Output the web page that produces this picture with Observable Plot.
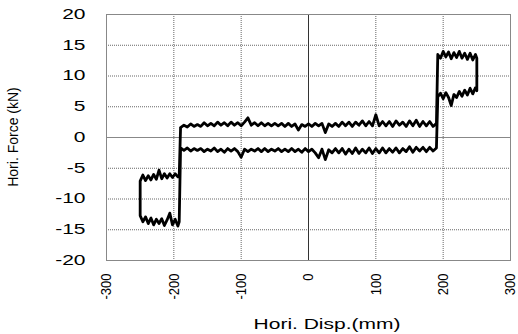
<!DOCTYPE html>
<html>
<head>
<meta charset="utf-8">
<script src="https://cdn.jsdelivr.net/npm/d3@7"></script>
<script src="https://cdn.jsdelivr.net/npm/@observablehq/plot@0.6"></script>
<style>
  html, body { margin: 0; padding: 0; background: #fff; }
  #chart svg { display: block; }
</style>
</head>
<body>
<div id="chart"></div>
<script>
// ---- data (displacement mm, force kN) ----
const xTicks = [-300, -200, -100, 0, 100, 200, 300];
const yTicks = [-20, -15, -10, -5, 0, 5, 10, 15, 20];
const xLabel = "Hori. Disp.(mm)";
const yLabel = "Hori. Force (kN)";

// upper friction branch (moving right, ~ +2 kN)
const upperBranch = [
  [-190,1.6],[-185,2.0],[-180,1.7],[-175,2.2],[-170,1.8],[-165,2.1],[-160,1.8],[-155,2.4],
  [-150,1.9],[-145,2.3],[-140,1.9],[-135,2.5],[-130,2.0],[-125,2.4],[-120,1.9],[-115,2.5],
  [-110,2.0],[-105,2.4],[-100,1.9],[-95,2.5],[-90,3.2],[-85,2.0],[-80,2.4],[-75,1.9],
  [-70,2.4],[-65,1.9],[-60,2.3],[-55,1.9],[-50,2.3],[-45,1.9],[-40,2.3],[-35,1.8],
  [-30,2.3],[-25,1.8],[-20,2.2],[-15,1.2],[-10,2.1],[-5,1.8],[0,2.2],[5,1.8],
  [10,2.3],[15,1.9],[20,2.3],[25,0.8],[30,2.2],[35,1.8],[40,2.3],[45,1.8],
  [50,2.5],[55,1.9],[60,2.5],[65,1.8],[70,2.5],[75,2.0],[80,2.7],[85,1.9],
  [90,2.6],[95,1.9],[100,3.7],[105,1.9],[110,2.6],[115,1.9],[120,2.6],[125,1.8],
  [130,2.7],[135,2.0],[140,2.5],[145,1.8],[150,2.7],[155,1.9],[160,2.8],[165,1.8],
  [170,2.6],[175,1.9],[180,2.6],[185,1.8],[190,2.3]
];
// lower friction branch (moving left, ~ -2 kN)
const lowerBranch = [
  [-190,-1.7],[-185,-2.1],[-180,-1.7],[-175,-2.2],[-170,-1.8],[-165,-2.1],[-160,-1.8],[-155,-2.3],
  [-150,-1.9],[-145,-2.2],[-140,-1.7],[-135,-2.3],[-130,-1.9],[-125,-2.4],[-120,-1.8],[-115,-2.2],
  [-110,-1.8],[-105,-2.3],[-100,-3.2],[-95,-1.9],[-90,-2.3],[-85,-1.9],[-80,-2.2],[-75,-1.8],
  [-70,-2.3],[-65,-1.8],[-60,-2.3],[-55,-1.9],[-50,-2.2],[-45,-1.8],[-40,-2.3],[-35,-1.9],
  [-30,-2.3],[-25,-1.8],[-20,-2.3],[-15,-1.9],[-10,-2.4],[-5,-1.8],[0,-2.3],[5,-1.9],
  [10,-2.5],[15,-3.3],[20,-1.9],[25,-3.6],[30,-2.0],[35,-2.5],[40,-1.8],[45,-2.5],
  [50,-1.8],[55,-2.7],[60,-1.9],[65,-2.6],[70,-1.7],[75,-2.6],[80,-1.9],[85,-2.5],
  [90,-1.7],[95,-2.6],[100,-1.8],[105,-2.5],[110,-1.7],[115,-2.5],[120,-1.8],[125,-2.4],
  [130,-1.7],[135,-2.5],[140,-1.8],[145,-2.3],[150,-1.5],[155,-2.4],[160,-1.6],[165,-2.2],
  [170,-1.6],[175,-2.3],[180,-1.6],[185,-2.2],[190,-1.7]
];
// right stopper loop
const rightTop = [
  [192,13.5],[196,12.9],[200,14.0],[204,13.1],[208,13.9],[212,12.8],[216,13.8],[220,13.0],
  [224,14.0],[228,12.9],[232,13.7],[236,12.7],[240,13.7],[244,12.6],[248,13.5],[250,12.9]
];
const rightBottom = [
  [192,6.6],[196,7.2],[200,6.3],[204,7.3],[208,6.5],[212,5.2],[216,7.0],[220,6.5],
  [224,7.5],[228,6.7],[232,7.7],[236,6.9],[240,8.0],[244,7.1],[248,8.1],[250,7.6]
];
// left stopper loop
const leftBottom = [
  [-250,-12.7],[-246,-13.7],[-242,-12.9],[-238,-14.0],[-234,-13.1],[-230,-14.2],[-226,-13.3],[-222,-14.0],
  [-218,-13.2],[-214,-14.3],[-210,-13.4],[-206,-12.3],[-202,-14.2],[-198,-13.3],[-194,-14.4],[-192,-13.7]
];
const leftTop = [
  [-250,-7.1],[-246,-6.1],[-242,-7.0],[-238,-6.2],[-234,-6.9],[-230,-6.0],[-226,-6.8],[-222,-5.3],
  [-218,-6.7],[-214,-5.9],[-210,-6.6],[-206,-5.9],[-202,-6.5],[-198,-5.9],[-194,-6.4],[-192,-6.1]
];

// assemble the closed hysteresis path in drawing order
const loop = [
  ...upperBranch,
  ...rightTop,
  ...rightBottom.slice().reverse(),
  ...lowerBranch.slice().reverse(),
  ...leftBottom.slice().reverse(),
  ...leftTop,
  upperBranch[0]
].map(([d, f]) => ({d, f}));

const innerX = xTicks.filter(v => v !== 0 && Math.abs(v) !== 300);
const innerY = yTicks.filter(v => v !== 0 && Math.abs(v) !== 20);

const plot = Plot.plot({
  width: 518,
  height: 334,
  marginLeft: 106,
  marginRight: 8,
  marginTop: 14,
  marginBottom: 74,
  style: {fontFamily: "'Liberation Sans', Arial, sans-serif", background: "#fff", color: "#000"},
  x: {domain: [-300, 300]},
  y: {domain: [-20, 20]},
  marks: [
    Plot.gridX(innerX, {stroke: "#666", strokeOpacity: 1, strokeWidth: 1, strokeDasharray: "1,1"}),
    Plot.gridY(innerY, {stroke: "#666", strokeOpacity: 1, strokeWidth: 1, strokeDasharray: "1,1"}),
    Plot.ruleY([0], {stroke: "#888", strokeWidth: 1}),
    Plot.ruleX([0], {stroke: "#333", strokeWidth: 1}),
    Plot.frame({stroke: "#888", strokeWidth: 1}),
    Plot.line(loop, {x: "d", y: "f", stroke: "#000", strokeWidth: 2.8, strokeLinejoin: "round", curve: "linear"}),
    Plot.axisY(yTicks, {tickSize: 0, tickPadding: 21, fontSize: 14, label: null, tickFormat: d => d}),
    Plot.axisX(xTicks, {tickSize: 0, tickPadding: 13, tickRotate: -90, fontSize: 13, label: null, tickFormat: d => d})
  ]
});

document.getElementById("chart").appendChild(plot);

const svg = d3.select(plot);
function stretch(selector, sx, sy) {
  svg.selectAll(selector).each(function() {
    const t = d3.select(this);
    let tr = t.attr("transform");
    if (!tr) {
      const x = +t.attr("x") || 0, y = +t.attr("y") || 0;
      t.attr("x", null).attr("y", null);
      tr = `translate(${x},${y})`;
    }
    t.attr("transform", tr + ` scale(${sx},${sy})`);
  });
}
// the reference text is horizontally stretched
stretch('g[aria-label="y-axis tick label"] text', 1.5, 1);
stretch('g[aria-label="x-axis tick label"] text', 1, 1.15);

// axis titles
svg.append("text")
  .attr("transform", "translate(327,329) scale(1.5,1)")
  .attr("text-anchor", "middle")
  .attr("font-size", 14)
  .attr("fill", "#000")
  .text(xLabel);
svg.append("text")
  .attr("transform", "translate(18,137) rotate(-90)")
  .attr("text-anchor", "middle")
  .attr("font-size", 14)
  .attr("fill", "#000")
  .text(yLabel);
</script>
</body>
</html>
